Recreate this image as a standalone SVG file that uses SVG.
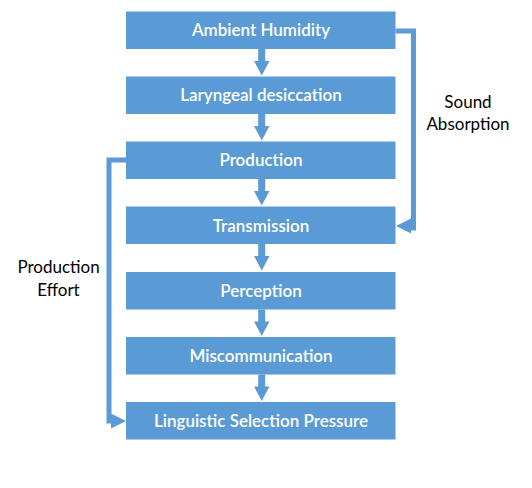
<svg xmlns="http://www.w3.org/2000/svg" width="532" height="488" viewBox="0 0 532 488">
<style>
.box{fill:#5B9BD5}
.bt{font-family:Lato,"Liberation Sans",Arial,sans-serif;font-size:17px;font-weight:600;fill:#fff;text-anchor:middle}
.lbl{font-family:Lato,"Liberation Sans",Arial,sans-serif;font-size:17px;fill:#000;text-anchor:middle}
.ln{fill:none;stroke:#5B9BD5;stroke-width:5}
.ah{fill:#5B9BD5}
</style>
<rect width="532" height="488" fill="#fff"/>
<g id="connectors">
<path class="ah" d="M258.2 49h7v12h4.3l-7.75 14.5L254 61h4.2z"/>
<path class="ah" d="M258.2 114h7v12h4.3l-7.75 14.5L254 126h4.2z"/>
<path class="ah" d="M258.2 179h7v12h4.3l-7.75 14.5L254 191h4.2z"/>
<path class="ah" d="M258.2 244h7v12h4.3l-7.75 14.5L254 256h4.2z"/>
<path class="ah" d="M258.2 309.5h7v12h4.3l-7.75 14.5L254 321.5h4.2z"/>
<path class="ah" d="M258.2 374.5h7v12h4.3l-7.75 14.5L254 386.5h4.2z"/>
<polyline class="ln" points="395.5,31 413.5,31 413.5,228 409,228"/>
<polygon class="ah" points="396,226 411,218.5 411,233.5"/>
<polyline class="ln" points="126,160 109,160 109,421 113,421"/>
<polygon class="ah" points="126,421 111,413.5 111,428.5"/>
</g>
<g id="n1"><rect class="box" x="126" y="11.5" width="269.5" height="37.5"/><text class="bt" x="261" y="36">Ambient Humidity</text></g>
<g id="n2"><rect class="box" x="126" y="76.5" width="269.5" height="37.5"/><text class="bt" x="261" y="101">Laryngeal desiccation</text></g>
<g id="n3"><rect class="box" x="126" y="141.5" width="269.5" height="37.5"/><text class="bt" x="261" y="166">Production</text></g>
<g id="n4"><rect class="box" x="126" y="206.5" width="269.5" height="37.5"/><text class="bt" x="261" y="231.5">Transmission</text></g>
<g id="n5"><rect class="box" x="126" y="272" width="269.5" height="37.5"/><text class="bt" x="261" y="296.5">Perception</text></g>
<g id="n6"><rect class="box" x="126" y="337" width="269.5" height="37.5"/><text class="bt" x="261" y="361.5">Miscommunication</text></g>
<g id="n7"><rect class="box" x="126" y="402" width="269.5" height="37.5"/><text class="bt" x="261" y="426.5">Linguistic Selection Pressure</text></g>
<g id="labels">
<text class="lbl" x="468" y="108">Sound</text>
<text class="lbl" x="468" y="130">Absorption</text>
<text class="lbl" x="58.5" y="273">Production</text>
<text class="lbl" x="58.5" y="296">Effort</text>
</g>
</svg>
